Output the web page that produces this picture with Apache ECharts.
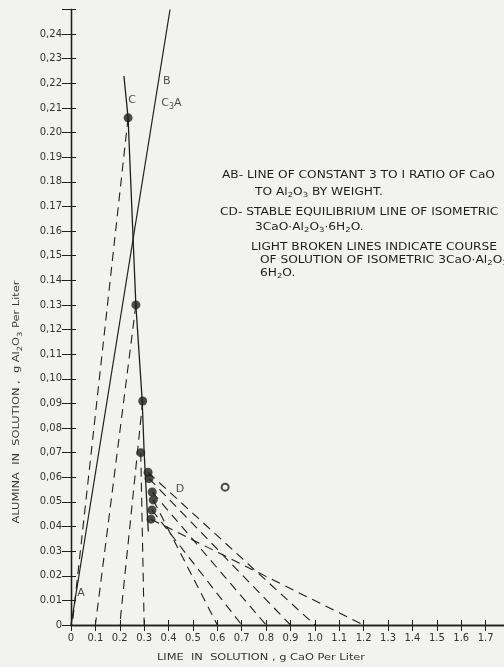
<!DOCTYPE html>
<html>
<head>
<meta charset="utf-8">
<script src="https://cdn.jsdelivr.net/npm/echarts@6/dist/echarts.min.js"></script>
<style>
  html, body { margin: 0; padding: 0; background: #f2f2f0; }
  #chart { width: 504px; height: 667px; }
</style>
</head>
<body>
<div id="chart"></div>
<script>
// Measured solutions: lime (g CaO per liter) and alumina (g Al2O3 per liter)
const pointLime    = [0.234, 0.266, 0.294, 0.286, 0.316, 0.320, 0.333, 0.337, 0.332, 0.328];
const pointAlumina = [0.206, 0.130, 0.091, 0.070, 0.062, 0.0595, 0.054, 0.0508, 0.0467, 0.043];

// Single open-circle observation
const openLime = [0.632];
const openAlumina = [0.056];

// AB: constant 3 to 1 ratio line
const abLime = [0, 0.406];
const abAlumina = [0, 0.25];

// CD: stable equilibrium line
const cdLime    = [0.217, 0.234, 0.266, 0.292, 0.300, 0.317];
const cdAlumina = [0.223, 0.206, 0.130, 0.091, 0.070, 0.038];

// Light broken lines: from a measured point down to a lime value at zero alumina
const brokenFrom   = [0, 1, 2, 3, 4, 5, 6, 7, 8, 9];
const brokenToLime = [0.005, 0.1, 0.2, 0.3, 1.0, 0.9, 0.8, 0.6, 0.7, 1.2];

// Letter tags on the lines
const tagText    = ['A', 'B', 'C', 'C{s|3}A', 'D'];
const tagLime    = [0.041, 0.393, 0.250, 0.412, 0.447];
const tagAlumina = [0.013, 0.221, 0.213, 0.212, 0.0553];

// Tick labels
const xTickLabels = ['0', '0.1', '0.2', '0.3', '0.4', '0.5', '0.6', '0.7', '0.8', '0.9',
                     '1.0', '1.1', '1.2', '1.3', '1.4', '1.5', '1.6', '1.7', ''];
const yTickLabels = ['0', '0.01', '0.02', '0.03', '0.04', '0.05', '0,06', '0,07', '0,08', '0,09',
                     '0,10', '0,11', '0,12', '0.13', '0.14', '0,15', '0.16', '0.17', '0.18', '0.19',
                     '0.20', '0,21', '0,22', '0,23', '0,24', ''];

// Notes printed inside the plot
const noteLines = [
  'AB- LINE OF CONSTANT 3 TO I RATIO OF CaO',
  'TO Al{s|2}O{s|3} BY WEIGHT.',
  'CD- STABLE EQUILIBRIUM LINE OF ISOMETRIC',
  '3CaO·Al{s|2}O{s|3}·6H{s|2}O.',
  'LIGHT BROKEN LINES INDICATE COURSE',
  'OF SOLUTION OF ISOMETRIC 3CaO·Al{s|2}O{s|3}·',
  '6H{s|2}O.'
];
const noteLeft = [222, 255, 220, 255, 251, 260, 260];
const noteTop  = [170, 187, 207, 222, 242, 255, 268];

const INK = '#1e1e1e';
const FONT = 'DejaVu Sans';
const SUB = { fontSize: 7, fontFamily: FONT, fill: INK, padding: [6, 0, 0, 0] };

const zip = (xs, ys) => xs.map((x, i) => [x, ys[i]]);

const series = [];

// AB line
series.push({
  type: 'line', data: zip(abLime, abAlumina), showSymbol: false, silent: true,
  lineStyle: { color: INK, width: 1.2 }, z: 3
});
// CD line
series.push({
  type: 'line', data: zip(cdLime, cdAlumina), showSymbol: false, silent: true,
  lineStyle: { color: INK, width: 1.3 }, z: 3
});
// Broken lines
brokenFrom.forEach((idx, k) => {
  series.push({
    type: 'line', showSymbol: false, silent: true,
    data: [[pointLime[idx], pointAlumina[idx]], [brokenToLime[k], 0]],
    lineStyle: { color: INK, width: 1.1, type: [9, 6] }, z: 2
  });
});
// Measured points
series.push({
  type: 'scatter', data: zip(pointLime, pointAlumina), symbol: 'circle', symbolSize: 9,
  itemStyle: { color: INK }, z: 5
});
// Open circle
series.push({
  type: 'scatter', data: zip(openLime, openAlumina), symbol: 'circle', symbolSize: 7,
  itemStyle: { color: 'transparent', borderColor: INK, borderWidth: 2 }, z: 5
});
// Letter tags
series.push({
  type: 'scatter', symbolSize: 0, silent: true,
  data: tagText.map((t, i) => ({ value: [tagLime[i], tagAlumina[i]], name: t })),
  label: {
    show: true, position: 'inside', formatter: p => p.name,
    color: INK, fontFamily: FONT, fontSize: 11,
    rich: { s: { fontSize: 8, fontFamily: FONT, color: INK, padding: [7, 0, 0, 0] } }
  }
});

const axisLine = { show: true, lineStyle: { color: INK, width: 1.3 } };

const graphic = [
  // Axis titles
  {
    type: 'text', left: 157, top: 653, scaleX: 1.2, style: {
      text: 'LIME  IN  SOLUTION , g CaO Per Liter',
      fill: '#333', fontFamily: FONT, fontSize: 9.5
    }
  },
  {
    type: 'text', x: 17, y: 402, rotation: Math.PI / 2, scaleX: 1.2, style: {
      text: 'ALUMINA  IN  SOLUTION ,  g Al{s|2}O{s|3} Per Liter',
      fill: '#333', fontFamily: FONT, fontSize: 9.5, align: 'center', verticalAlign: 'middle',
      rich: { s: Object.assign({}, SUB, { fill: '#333' }) }
    }
  }
];
noteLines.forEach((t, i) => {
  graphic.push({
    type: 'text', left: noteLeft[i], top: noteTop[i], scaleX: 1.22, style: {
      text: t, fill: INK, fontFamily: FONT, fontSize: 10, rich: { s: SUB }
    }
  });
});

const option = {
  backgroundColor: '#f2f2f0',
  animation: false,
  grid: { left: 71, top: 9.5, bottom: 42, right: -6, outerBoundsMode: 'none' },
  xAxis: [
    {
      type: 'value', min: 0, max: 1.8, interval: 0.1, position: 'bottom',
      axisLine, splitLine: { show: false },
      axisTick: { inside: true, length: 5, lineStyle: { color: INK } },
      axisLabel: {
        color: '#333', fontFamily: FONT, fontSize: 10, margin: 8,
        formatter: v => xTickLabels[Math.round(v * 10)]
      }
    },
    {
      type: 'value', min: 0, max: 1.8, interval: 0.1, position: 'top',
      axisLine, splitLine: { show: false },
      axisTick: { inside: true, length: 6, lineStyle: { color: INK } },
      axisLabel: { show: false }
    }
  ],
  yAxis: [
    {
      type: 'value', min: 0, max: 0.25, interval: 0.01, position: 'left',
      axisLine, splitLine: { show: false },
      axisTick: { inside: true, length: 5, lineStyle: { color: INK } },
      axisLabel: {
        color: '#333', fontFamily: FONT, fontSize: 10, margin: 9,
        formatter: v => yTickLabels[Math.round(v * 100)]
      }
    },
    {
      type: 'value', min: 0, max: 0.25, interval: 0.01, position: 'right',
      axisLine, splitLine: { show: false },
      axisTick: { inside: true, length: 9, lineStyle: { color: INK } },
      axisLabel: { show: false }
    }
  ],
  series,
  graphic
};

const chart = echarts.init(document.getElementById('chart'), null, { renderer: 'canvas' });
chart.setOption(option);
</script>
</body>
</html>
